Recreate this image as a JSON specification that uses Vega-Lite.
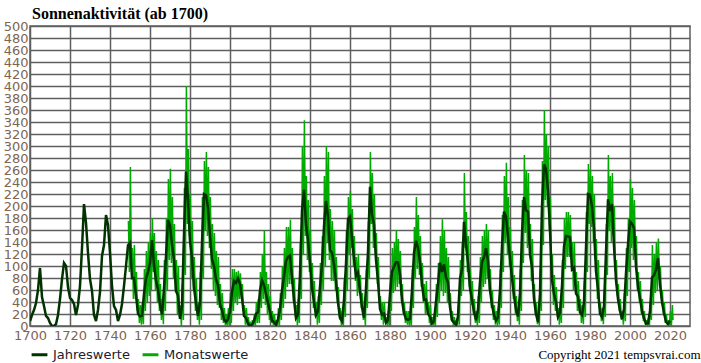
{
"$schema":"https://vega.github.io/schema/vega-lite/v6.json",
"width":660,"height":300,
"autosize":"none",
"padding":{"left":30,"top":26,"right":11,"bottom":37},
"background":"white",
"title":{"text":"Sonnenaktivität (ab 1700)","anchor":"start","frame":"group","font":"Liberation Serif","fontSize":16,"fontWeight":"bold","color":"#000000","offset":-2,"dx":2},
"config":{"view":{"stroke":"#5f5f5f","strokeWidth":1.5},"axis":{"labelFont":"DejaVu Sans","labelFontSize":13,"labelColor":"#7d6552","gridColor":"#5f5f5f","gridWidth":1.5,"gridOpacity":1,"domain":false,"ticks":false,"labelOverlap":false,"labelFlush":false},"axisY":{"labelOverlap":false},"axisX":{"labelOverlap":false}},
"datasets":{
"j":[{"t":1700,"v":8.3},{"t":1701,"v":18.3},{"t":1702,"v":26.7},{"t":1703,"v":38.3},{"t":1704,"v":60},{"t":1705,"v":96.7},{"t":1706,"v":48.3},{"t":1707,"v":33.3},{"t":1708,"v":16.7},{"t":1709,"v":13.3},{"t":1710,"v":5},{"t":1711,"v":0},{"t":1712,"v":0},{"t":1713,"v":3.3},{"t":1714,"v":18.3},{"t":1715,"v":45},{"t":1716,"v":78.3},{"t":1717,"v":105},{"t":1718,"v":100},{"t":1719,"v":65},{"t":1720,"v":46.7},{"t":1721,"v":43.3},{"t":1722,"v":36.7},{"t":1723,"v":18.3},{"t":1724,"v":35},{"t":1725,"v":66.7},{"t":1726,"v":130},{"t":1727,"v":203.3},{"t":1728,"v":171.7},{"t":1729,"v":121.7},{"t":1730,"v":78.3},{"t":1731,"v":58.3},{"t":1732,"v":18.3},{"t":1733,"v":8.3},{"t":1734,"v":26.7},{"t":1735,"v":56.7},{"t":1736,"v":116.7},{"t":1737,"v":135},{"t":1738,"v":185},{"t":1739,"v":168.3},{"t":1740,"v":121.7},{"t":1741,"v":66.7},{"t":1742,"v":33.3},{"t":1743,"v":26.7},{"t":1744,"v":8.3},{"t":1745,"v":18.3},{"t":1746,"v":36.7},{"t":1747,"v":66.7},{"t":1748,"v":100},{"t":1749,"v":134.8},{"t":1750,"v":139},{"t":1751,"v":79.5},{"t":1752,"v":79.7},{"t":1753,"v":51.2},{"t":1754,"v":20.3},{"t":1755,"v":16},{"t":1756,"v":17},{"t":1757,"v":54},{"t":1758,"v":79.3},{"t":1759,"v":90},{"t":1760,"v":104.8},{"t":1761,"v":143.2},{"t":1762,"v":102},{"t":1763,"v":75.2},{"t":1764,"v":60.7},{"t":1765,"v":34.8},{"t":1766,"v":19},{"t":1767,"v":63},{"t":1768,"v":116.3},{"t":1769,"v":176.8},{"t":1770,"v":168},{"t":1771,"v":136},{"t":1772,"v":110.8},{"t":1773,"v":58},{"t":1774,"v":51},{"t":1775,"v":11.7},{"t":1776,"v":33},{"t":1777,"v":154.2},{"t":1778,"v":257.3},{"t":1779,"v":209.8},{"t":1780,"v":141.3},{"t":1781,"v":113.5},{"t":1782,"v":64.2},{"t":1783,"v":38},{"t":1784,"v":17},{"t":1785,"v":40.2},{"t":1786,"v":138.2},{"t":1787,"v":220},{"t":1788,"v":218.2},{"t":1789,"v":196.8},{"t":1790,"v":149.8},{"t":1791,"v":111},{"t":1792,"v":100},{"t":1793,"v":78.2},{"t":1794,"v":68.3},{"t":1795,"v":35.5},{"t":1796,"v":26.7},{"t":1797,"v":10.7},{"t":1798,"v":6.8},{"t":1799,"v":11.3},{"t":1800,"v":24.2},{"t":1801,"v":56.7},{"t":1802,"v":75},{"t":1803,"v":71.8},{"t":1804,"v":79.2},{"t":1805,"v":70.3},{"t":1806,"v":46.8},{"t":1807,"v":16.8},{"t":1808,"v":13.5},{"t":1809,"v":4.2},{"t":1810,"v":0},{"t":1811,"v":2.3},{"t":1812,"v":8.3},{"t":1813,"v":20.3},{"t":1814,"v":23.2},{"t":1815,"v":59},{"t":1816,"v":76.3},{"t":1817,"v":68.3},{"t":1818,"v":52.9},{"t":1819,"v":38.5},{"t":1820,"v":24.2},{"t":1821,"v":9.2},{"t":1822,"v":6.3},{"t":1823,"v":2.2},{"t":1824,"v":11.4},{"t":1825,"v":28.2},{"t":1826,"v":59.9},{"t":1827,"v":83},{"t":1828,"v":108.5},{"t":1829,"v":115.2},{"t":1830,"v":117.4},{"t":1831,"v":80.8},{"t":1832,"v":44.3},{"t":1833,"v":13.4},{"t":1834,"v":19.5},{"t":1835,"v":85.8},{"t":1836,"v":192.7},{"t":1837,"v":227.3},{"t":1838,"v":168.7},{"t":1839,"v":143},{"t":1840,"v":105.5},{"t":1841,"v":63.3},{"t":1842,"v":40.3},{"t":1843,"v":18.1},{"t":1844,"v":25.1},{"t":1845,"v":65.8},{"t":1846,"v":102.7},{"t":1847,"v":166.3},{"t":1848,"v":208.3},{"t":1849,"v":182.5},{"t":1850,"v":126.3},{"t":1851,"v":122},{"t":1852,"v":102.7},{"t":1853,"v":74.1},{"t":1854,"v":39},{"t":1855,"v":12.7},{"t":1856,"v":8.2},{"t":1857,"v":43.4},{"t":1858,"v":104.4},{"t":1859,"v":178.3},{"t":1860,"v":182.2},{"t":1861,"v":146.6},{"t":1862,"v":112.1},{"t":1863,"v":83.5},{"t":1864,"v":89.2},{"t":1865,"v":57.8},{"t":1866,"v":30.7},{"t":1867,"v":13.9},{"t":1868,"v":62.8},{"t":1869,"v":123.6},{"t":1870,"v":232},{"t":1871,"v":185.3},{"t":1872,"v":169.2},{"t":1873,"v":110.1},{"t":1874,"v":74.5},{"t":1875,"v":28.3},{"t":1876,"v":18.9},{"t":1877,"v":20.7},{"t":1878,"v":5.7},{"t":1879,"v":10},{"t":1880,"v":53.7},{"t":1881,"v":90.5},{"t":1882,"v":99},{"t":1883,"v":106.1},{"t":1884,"v":105.8},{"t":1885,"v":86.3},{"t":1886,"v":42.4},{"t":1887,"v":21.8},{"t":1888,"v":11.2},{"t":1889,"v":10.4},{"t":1890,"v":11.8},{"t":1891,"v":59.5},{"t":1892,"v":121.7},{"t":1893,"v":142},{"t":1894,"v":130},{"t":1895,"v":106.6},{"t":1896,"v":69.4},{"t":1897,"v":43.8},{"t":1898,"v":44.4},{"t":1899,"v":20.2},{"t":1900,"v":15.7},{"t":1901,"v":4.6},{"t":1902,"v":8.5},{"t":1903,"v":40.8},{"t":1904,"v":70.1},{"t":1905,"v":105.5},{"t":1906,"v":90.1},{"t":1907,"v":102.8},{"t":1908,"v":80.9},{"t":1909,"v":73.2},{"t":1910,"v":30.9},{"t":1911,"v":9.5},{"t":1912,"v":6},{"t":1913,"v":2.4},{"t":1914,"v":16.1},{"t":1915,"v":79},{"t":1916,"v":95},{"t":1917,"v":173.6},{"t":1918,"v":134.6},{"t":1919,"v":105.7},{"t":1920,"v":62.7},{"t":1921,"v":43.5},{"t":1922,"v":23.7},{"t":1923,"v":9.7},{"t":1924,"v":27.9},{"t":1925,"v":74},{"t":1926,"v":106.5},{"t":1927,"v":114.7},{"t":1928,"v":129.7},{"t":1929,"v":108.2},{"t":1930,"v":59.4},{"t":1931,"v":35.1},{"t":1932,"v":18.6},{"t":1933,"v":9.2},{"t":1934,"v":14.6},{"t":1935,"v":60.2},{"t":1936,"v":132.8},{"t":1937,"v":190.6},{"t":1938,"v":182.6},{"t":1939,"v":148},{"t":1940,"v":113},{"t":1941,"v":79.2},{"t":1942,"v":50.8},{"t":1943,"v":27.1},{"t":1944,"v":16.1},{"t":1945,"v":55.3},{"t":1946,"v":154.3},{"t":1947,"v":214.7},{"t":1948,"v":193},{"t":1949,"v":190.7},{"t":1950,"v":118.9},{"t":1951,"v":98.3},{"t":1952,"v":45},{"t":1953,"v":20.1},{"t":1954,"v":6.6},{"t":1955,"v":54.2},{"t":1956,"v":200.7},{"t":1957,"v":269.3},{"t":1958,"v":261.7},{"t":1959,"v":225.1},{"t":1960,"v":159},{"t":1961,"v":76.4},{"t":1962,"v":53.4},{"t":1963,"v":39.9},{"t":1964,"v":15},{"t":1965,"v":22},{"t":1966,"v":66.8},{"t":1967,"v":132.9},{"t":1968,"v":150},{"t":1969,"v":149.4},{"t":1970,"v":148},{"t":1971,"v":94.4},{"t":1972,"v":97.6},{"t":1973,"v":54.1},{"t":1974,"v":49.2},{"t":1975,"v":22.5},{"t":1976,"v":18.4},{"t":1977,"v":39.3},{"t":1978,"v":131},{"t":1979,"v":220.1},{"t":1980,"v":218.9},{"t":1981,"v":198.9},{"t":1982,"v":162.4},{"t":1983,"v":91},{"t":1984,"v":60.5},{"t":1985,"v":20.6},{"t":1986,"v":14.8},{"t":1987,"v":33.9},{"t":1988,"v":123},{"t":1989,"v":211.1},{"t":1990,"v":191.8},{"t":1991,"v":203.3},{"t":1992,"v":133},{"t":1993,"v":76.1},{"t":1994,"v":44.9},{"t":1995,"v":25.1},{"t":1996,"v":11.6},{"t":1997,"v":28.9},{"t":1998,"v":88.3},{"t":1999,"v":136.3},{"t":2000,"v":173.9},{"t":2001,"v":170.4},{"t":2002,"v":163.6},{"t":2003,"v":99.3},{"t":2004,"v":65.3},{"t":2005,"v":45.8},{"t":2006,"v":24.7},{"t":2007,"v":12.6},{"t":2008,"v":4.2},{"t":2009,"v":4.8},{"t":2010,"v":24.9},{"t":2011,"v":80.8},{"t":2012,"v":84.5},{"t":2013,"v":94},{"t":2014,"v":113.3},{"t":2015,"v":69.8},{"t":2016,"v":39.8},{"t":2017,"v":21.7},{"t":2018,"v":7},{"t":2019,"v":3.6},{"t":2020,"v":8.8}],
"m":[{"t":1749.2,"v":175},{"t":1749.7,"v":90},{"t":1750.2,"v":265},{"t":1750.7,"v":95},{"t":1751.2,"v":130},{"t":1751.7,"v":45},{"t":1752.2,"v":135},{"t":1752.7,"v":45},{"t":1753.2,"v":90},{"t":1753.7,"v":25},{"t":1754.2,"v":45},{"t":1754.7,"v":5},{"t":1755.2,"v":35},{"t":1755.7,"v":2},{"t":1756.2,"v":40},{"t":1756.7,"v":3},{"t":1757.2,"v":95},{"t":1757.7,"v":25},{"t":1758.2,"v":125},{"t":1758.7,"v":40},{"t":1759.2,"v":140},{"t":1759.7,"v":50},{"t":1760.2,"v":155},{"t":1760.7,"v":60},{"t":1761.2,"v":180},{"t":1761.7,"v":90},{"t":1762.2,"v":155},{"t":1762.7,"v":60},{"t":1763.2,"v":125},{"t":1763.7,"v":40},{"t":1764.2,"v":110},{"t":1764.7,"v":25},{"t":1765.2,"v":70},{"t":1765.7,"v":10},{"t":1766.2,"v":45},{"t":1766.7,"v":3},{"t":1767.2,"v":110},{"t":1767.7,"v":25},{"t":1768.2,"v":180},{"t":1768.7,"v":60},{"t":1769.2,"v":245},{"t":1769.7,"v":110},{"t":1770.2,"v":262},{"t":1770.7,"v":105},{"t":1771.2,"v":215},{"t":1771.7,"v":80},{"t":1772.2,"v":170},{"t":1772.7,"v":60},{"t":1773.2,"v":110},{"t":1773.7,"v":20},{"t":1774.2,"v":100},{"t":1774.7,"v":15},{"t":1775.2,"v":35},{"t":1775.7,"v":0},{"t":1776.2,"v":70},{"t":1776.7,"v":10},{"t":1777.2,"v":230},{"t":1777.7,"v":85},{"t":1778.2,"v":400},{"t":1778.7,"v":170},{"t":1779.2,"v":295},{"t":1779.7,"v":150},{"t":1780.2,"v":220},{"t":1780.7,"v":80},{"t":1781.2,"v":175},{"t":1781.7,"v":60},{"t":1782.2,"v":115},{"t":1782.7,"v":25},{"t":1783.2,"v":80},{"t":1783.7,"v":10},{"t":1784.2,"v":40},{"t":1784.7,"v":2},{"t":1785.2,"v":90},{"t":1785.7,"v":10},{"t":1786.2,"v":215},{"t":1786.7,"v":80},{"t":1787.2,"v":275},{"t":1787.7,"v":160},{"t":1788.2,"v":290},{"t":1788.7,"v":150},{"t":1789.2,"v":265},{"t":1789.7,"v":130},{"t":1790.2,"v":215},{"t":1790.7,"v":95},{"t":1791.2,"v":170},{"t":1791.7,"v":60},{"t":1792.2,"v":155},{"t":1792.7,"v":50},{"t":1793.2,"v":125},{"t":1793.7,"v":35},{"t":1794.2,"v":115},{"t":1794.7,"v":30},{"t":1795.2,"v":70},{"t":1795.7,"v":10},{"t":1796.2,"v":55},{"t":1796.7,"v":5},{"t":1797.2,"v":30},{"t":1797.7,"v":0},{"t":1798.2,"v":20},{"t":1798.7,"v":0},{"t":1799.2,"v":30},{"t":1799.7,"v":0},{"t":1800.2,"v":55},{"t":1800.7,"v":5},{"t":1801.2,"v":95},{"t":1801.7,"v":25},{"t":1802.2,"v":95},{"t":1802.7,"v":40},{"t":1803.2,"v":90},{"t":1803.7,"v":35},{"t":1804.2,"v":92},{"t":1804.7,"v":45},{"t":1805.2,"v":88},{"t":1805.7,"v":45},{"t":1806.2,"v":70},{"t":1806.7,"v":25},{"t":1807.2,"v":35},{"t":1807.7,"v":2},{"t":1808.2,"v":30},{"t":1808.7,"v":0},{"t":1809.2,"v":15},{"t":1809.7,"v":0},{"t":1810.2,"v":5},{"t":1810.7,"v":0},{"t":1811.2,"v":10},{"t":1811.7,"v":0},{"t":1812.2,"v":20},{"t":1812.7,"v":0},{"t":1813.2,"v":40},{"t":1813.7,"v":5},{"t":1814.2,"v":45},{"t":1814.7,"v":5},{"t":1815.2,"v":90},{"t":1815.7,"v":30},{"t":1816.2,"v":120},{"t":1816.7,"v":45},{"t":1817.2,"v":159},{"t":1817.7,"v":35},{"t":1818.2,"v":90},{"t":1818.7,"v":20},{"t":1819.2,"v":70},{"t":1819.7,"v":10},{"t":1820.2,"v":50},{"t":1820.7,"v":5},{"t":1821.2,"v":25},{"t":1821.7,"v":0},{"t":1822.2,"v":20},{"t":1822.7,"v":0},{"t":1823.2,"v":10},{"t":1823.7,"v":0},{"t":1824.2,"v":30},{"t":1824.7,"v":0},{"t":1825.2,"v":55},{"t":1825.7,"v":10},{"t":1826.2,"v":100},{"t":1826.7,"v":30},{"t":1827.2,"v":130},{"t":1827.7,"v":45},{"t":1828.2,"v":165},{"t":1828.7,"v":65},{"t":1829.2,"v":165},{"t":1829.7,"v":70},{"t":1830.2,"v":177},{"t":1830.7,"v":70},{"t":1831.2,"v":130},{"t":1831.7,"v":40},{"t":1832.2,"v":80},{"t":1832.7,"v":15},{"t":1833.2,"v":35},{"t":1833.7,"v":0},{"t":1834.2,"v":45},{"t":1834.7,"v":5},{"t":1835.2,"v":140},{"t":1835.7,"v":45},{"t":1836.2,"v":300},{"t":1836.7,"v":120},{"t":1837.2,"v":343},{"t":1837.7,"v":150},{"t":1838.2,"v":250},{"t":1838.7,"v":110},{"t":1839.2,"v":210},{"t":1839.7,"v":90},{"t":1840.2,"v":160},{"t":1840.7,"v":60},{"t":1841.2,"v":105},{"t":1841.7,"v":30},{"t":1842.2,"v":75},{"t":1842.7,"v":15},{"t":1843.2,"v":40},{"t":1843.7,"v":2},{"t":1844.2,"v":50},{"t":1844.7,"v":5},{"t":1845.2,"v":105},{"t":1845.7,"v":35},{"t":1846.2,"v":150},{"t":1846.7,"v":60},{"t":1847.2,"v":250},{"t":1847.7,"v":100},{"t":1848.2,"v":300},{"t":1848.7,"v":140},{"t":1849.2,"v":290},{"t":1849.7,"v":110},{"t":1850.2,"v":195},{"t":1850.7,"v":75},{"t":1851.2,"v":175},{"t":1851.7,"v":75},{"t":1852.2,"v":160},{"t":1852.7,"v":60},{"t":1853.2,"v":115},{"t":1853.7,"v":40},{"t":1854.2,"v":65},{"t":1854.7,"v":15},{"t":1855.2,"v":30},{"t":1855.7,"v":0},{"t":1856.2,"v":25},{"t":1856.7,"v":0},{"t":1857.2,"v":80},{"t":1857.7,"v":15},{"t":1858.2,"v":160},{"t":1858.7,"v":60},{"t":1859.2,"v":215},{"t":1859.7,"v":120},{"t":1860.2,"v":225},{"t":1860.7,"v":130},{"t":1861.2,"v":195},{"t":1861.7,"v":100},{"t":1862.2,"v":150},{"t":1862.7,"v":75},{"t":1863.2,"v":115},{"t":1863.7,"v":50},{"t":1864.2,"v":120},{"t":1864.7,"v":55},{"t":1865.2,"v":85},{"t":1865.7,"v":30},{"t":1866.2,"v":55},{"t":1866.7,"v":10},{"t":1867.2,"v":30},{"t":1867.7,"v":0},{"t":1868.2,"v":95},{"t":1868.7,"v":30},{"t":1869.2,"v":175},{"t":1869.7,"v":80},{"t":1870.2,"v":290},{"t":1870.7,"v":170},{"t":1871.2,"v":255},{"t":1871.7,"v":130},{"t":1872.2,"v":220},{"t":1872.7,"v":120},{"t":1873.2,"v":155},{"t":1873.7,"v":70},{"t":1874.2,"v":115},{"t":1874.7,"v":40},{"t":1875.2,"v":50},{"t":1875.7,"v":10},{"t":1876.2,"v":40},{"t":1876.7,"v":2},{"t":1877.2,"v":40},{"t":1877.7,"v":5},{"t":1878.2,"v":15},{"t":1878.7,"v":0},{"t":1879.2,"v":25},{"t":1879.7,"v":0},{"t":1880.2,"v":85},{"t":1880.7,"v":25},{"t":1881.2,"v":130},{"t":1881.7,"v":55},{"t":1882.2,"v":140},{"t":1882.7,"v":60},{"t":1883.2,"v":160},{"t":1883.7,"v":65},{"t":1884.2,"v":145},{"t":1884.7,"v":70},{"t":1885.2,"v":125},{"t":1885.7,"v":50},{"t":1886.2,"v":70},{"t":1886.7,"v":20},{"t":1887.2,"v":40},{"t":1887.7,"v":5},{"t":1888.2,"v":25},{"t":1888.7,"v":2},{"t":1889.2,"v":25},{"t":1889.7,"v":0},{"t":1890.2,"v":25},{"t":1890.7,"v":0},{"t":1891.2,"v":95},{"t":1891.7,"v":30},{"t":1892.2,"v":165},{"t":1892.7,"v":80},{"t":1893.2,"v":215},{"t":1893.7,"v":95},{"t":1894.2,"v":185},{"t":1894.7,"v":85},{"t":1895.2,"v":150},{"t":1895.7,"v":65},{"t":1896.2,"v":105},{"t":1896.7,"v":40},{"t":1897.2,"v":70},{"t":1897.7,"v":20},{"t":1898.2,"v":75},{"t":1898.7,"v":20},{"t":1899.2,"v":40},{"t":1899.7,"v":5},{"t":1900.2,"v":35},{"t":1900.7,"v":2},{"t":1901.2,"v":15},{"t":1901.7,"v":0},{"t":1902.2,"v":20},{"t":1902.7,"v":0},{"t":1903.2,"v":70},{"t":1903.7,"v":15},{"t":1904.2,"v":105},{"t":1904.7,"v":40},{"t":1905.2,"v":150},{"t":1905.7,"v":60},{"t":1906.2,"v":178},{"t":1906.7,"v":50},{"t":1907.2,"v":160},{"t":1907.7,"v":55},{"t":1908.2,"v":130},{"t":1908.7,"v":40},{"t":1909.2,"v":115},{"t":1909.7,"v":35},{"t":1910.2,"v":55},{"t":1910.7,"v":10},{"t":1911.2,"v":25},{"t":1911.7,"v":0},{"t":1912.2,"v":15},{"t":1912.7,"v":0},{"t":1913.2,"v":10},{"t":1913.7,"v":0},{"t":1914.2,"v":35},{"t":1914.7,"v":2},{"t":1915.2,"v":110},{"t":1915.7,"v":50},{"t":1916.2,"v":140},{"t":1916.7,"v":60},{"t":1917.2,"v":255},{"t":1917.7,"v":130},{"t":1918.2,"v":190},{"t":1918.7,"v":90},{"t":1919.2,"v":150},{"t":1919.7,"v":65},{"t":1920.2,"v":95},{"t":1920.7,"v":35},{"t":1921.2,"v":75},{"t":1921.7,"v":20},{"t":1922.2,"v":45},{"t":1922.7,"v":5},{"t":1923.2,"v":25},{"t":1923.7,"v":0},{"t":1924.2,"v":50},{"t":1924.7,"v":5},{"t":1925.2,"v":115},{"t":1925.7,"v":40},{"t":1926.2,"v":150},{"t":1926.7,"v":65},{"t":1927.2,"v":160},{"t":1927.7,"v":70},{"t":1928.2,"v":170},{"t":1928.7,"v":80},{"t":1929.2,"v":160},{"t":1929.7,"v":60},{"t":1930.2,"v":95},{"t":1930.7,"v":30},{"t":1931.2,"v":60},{"t":1931.7,"v":10},{"t":1932.2,"v":35},{"t":1932.7,"v":2},{"t":1933.2,"v":25},{"t":1933.7,"v":0},{"t":1934.2,"v":30},{"t":1934.7,"v":2},{"t":1935.2,"v":95},{"t":1935.7,"v":30},{"t":1936.2,"v":185},{"t":1936.7,"v":90},{"t":1937.2,"v":250},{"t":1937.7,"v":140},{"t":1938.2,"v":272},{"t":1938.7,"v":120},{"t":1939.2,"v":215},{"t":1939.7,"v":100},{"t":1940.2,"v":165},{"t":1940.7,"v":75},{"t":1941.2,"v":125},{"t":1941.7,"v":45},{"t":1942.2,"v":85},{"t":1942.7,"v":20},{"t":1943.2,"v":50},{"t":1943.7,"v":8},{"t":1944.2,"v":30},{"t":1944.7,"v":2},{"t":1945.2,"v":95},{"t":1945.7,"v":25},{"t":1946.2,"v":210},{"t":1946.7,"v":105},{"t":1947.2,"v":285},{"t":1947.7,"v":155},{"t":1948.2,"v":260},{"t":1948.7,"v":130},{"t":1949.2,"v":255},{"t":1949.7,"v":135},{"t":1950.2,"v":170},{"t":1950.7,"v":75},{"t":1951.2,"v":145},{"t":1951.7,"v":60},{"t":1952.2,"v":70},{"t":1952.7,"v":20},{"t":1953.2,"v":40},{"t":1953.7,"v":3},{"t":1954.2,"v":20},{"t":1954.7,"v":0},{"t":1955.2,"v":95},{"t":1955.7,"v":25},{"t":1956.2,"v":275},{"t":1956.7,"v":135},{"t":1957.2,"v":360},{"t":1957.7,"v":210},{"t":1958.2,"v":320},{"t":1958.7,"v":200},{"t":1959.2,"v":300},{"t":1959.7,"v":160},{"t":1960.2,"v":215},{"t":1960.7,"v":105},{"t":1961.2,"v":120},{"t":1961.7,"v":35},{"t":1962.2,"v":85},{"t":1962.7,"v":25},{"t":1963.2,"v":65},{"t":1963.7,"v":15},{"t":1964.2,"v":30},{"t":1964.7,"v":2},{"t":1965.2,"v":40},{"t":1965.7,"v":5},{"t":1966.2,"v":110},{"t":1966.7,"v":30},{"t":1967.2,"v":180},{"t":1967.7,"v":95},{"t":1968.2,"v":190},{"t":1968.7,"v":115},{"t":1969.2,"v":190},{"t":1969.7,"v":115},{"t":1970.2,"v":185},{"t":1970.7,"v":115},{"t":1971.2,"v":140},{"t":1971.7,"v":60},{"t":1972.2,"v":140},{"t":1972.7,"v":65},{"t":1973.2,"v":90},{"t":1973.7,"v":25},{"t":1974.2,"v":75},{"t":1974.7,"v":25},{"t":1975.2,"v":45},{"t":1975.7,"v":5},{"t":1976.2,"v":35},{"t":1976.7,"v":3},{"t":1977.2,"v":75},{"t":1977.7,"v":15},{"t":1978.2,"v":190},{"t":1978.7,"v":90},{"t":1979.2,"v":270},{"t":1979.7,"v":170},{"t":1980.2,"v":260},{"t":1980.7,"v":165},{"t":1981.2,"v":250},{"t":1981.7,"v":140},{"t":1982.2,"v":220},{"t":1982.7,"v":110},{"t":1983.2,"v":145},{"t":1983.7,"v":45},{"t":1984.2,"v":110},{"t":1984.7,"v":30},{"t":1985.2,"v":40},{"t":1985.7,"v":8},{"t":1986.2,"v":30},{"t":1986.7,"v":3},{"t":1987.2,"v":60},{"t":1987.7,"v":15},{"t":1988.2,"v":170},{"t":1988.7,"v":85},{"t":1989.2,"v":285},{"t":1989.7,"v":160},{"t":1990.2,"v":250},{"t":1990.7,"v":140},{"t":1991.2,"v":255},{"t":1991.7,"v":150},{"t":1992.2,"v":200},{"t":1992.7,"v":90},{"t":1993.2,"v":110},{"t":1993.7,"v":50},{"t":1994.2,"v":70},{"t":1994.7,"v":25},{"t":1995.2,"v":45},{"t":1995.7,"v":10},{"t":1996.2,"v":25},{"t":1996.7,"v":2},{"t":1997.2,"v":55},{"t":1997.7,"v":8},{"t":1998.2,"v":130},{"t":1998.7,"v":50},{"t":1999.2,"v":180},{"t":1999.7,"v":90},{"t":2000.2,"v":245},{"t":2000.7,"v":130},{"t":2001.2,"v":230},{"t":2001.7,"v":110},{"t":2002.2,"v":210},{"t":2002.7,"v":120},{"t":2003.2,"v":150},{"t":2003.7,"v":60},{"t":2004.2,"v":90},{"t":2004.7,"v":40},{"t":2005.2,"v":75},{"t":2005.7,"v":20},{"t":2006.2,"v":45},{"t":2006.7,"v":8},{"t":2007.2,"v":25},{"t":2007.7,"v":2},{"t":2008.2,"v":10},{"t":2008.7,"v":0},{"t":2009.2,"v":12},{"t":2009.7,"v":0},{"t":2010.2,"v":40},{"t":2010.7,"v":10},{"t":2011.2,"v":135},{"t":2011.7,"v":35},{"t":2012.2,"v":120},{"t":2012.7,"v":55},{"t":2013.2,"v":140},{"t":2013.7,"v":60},{"t":2014.2,"v":146},{"t":2014.7,"v":80},{"t":2015.2,"v":100},{"t":2015.7,"v":45},{"t":2016.2,"v":60},{"t":2016.7,"v":20},{"t":2017.2,"v":40},{"t":2017.7,"v":5},{"t":2018.2,"v":20},{"t":2018.7,"v":0},{"t":2019.2,"v":10},{"t":2019.7,"v":0},{"t":2020.2,"v":25},{"t":2020.7,"v":0},{"t":2021.2,"v":35},{"t":2021.5,"v":10}]
},
"layer":[
{"data":{"name":"m"},"mark":{"type":"line","strokeWidth":1.5,"clip":true},
 "encoding":{"x":{"field":"t","type":"quantitative","scale":{"domain":[1700,2030],"nice":false,"zero":false},
   "axis":{"values":[1700,1720,1740,1760,1780,1800,1820,1840,1860,1880,1900,1920,1940,1960,1980,2000,2020],"format":"d","labelPadding":3,"labelFlush":false,"labelOverlap":false,
     "title":"Copyright 2021 tempsvrai.com","titleFont":"Liberation Serif","titleFontSize":13,"titleFontWeight":"normal","titleColor":"#000000","titleAnchor":"end","titleAlign":"right","titleBaseline":"alphabetic","titleX":670,"titleY":32}},
  "y":{"field":"v","type":"quantitative","scale":{"domain":[0,500],"nice":false},
   "axis":{"values":[0,20,40,60,80,100,120,140,160,180,200,220,240,260,280,300,320,340,360,380,400,420,440,460,480,500],"labelPadding":2,"labelFlush":false,"labelOverlap":false,"labelBound":false,"title":null}},
  "color":{"datum":"Monatswerte","type":"nominal","scale":{"domain":["Jahreswerte","Monatswerte"],"range":["#003300","#00aa00"]},
   "legend":{"title":null,"orient":"none","legendX":0,"legendY":319,"direction":"horizontal","symbolType":"stroke","symbolStrokeWidth":3,"symbolSize":250,"labelFont":"DejaVu Sans","labelFontSize":13,"labelColor":"#202030","labelOffset":4,"columnPadding":6,"padding":0}}}},
{"data":{"name":"j"},"mark":{"type":"line","strokeWidth":2.5,"clip":true},
 "encoding":{"x":{"field":"t","type":"quantitative"},"y":{"field":"v","type":"quantitative","axis":{"values":[0,20,40,60,80,100,120,140,160,180,200,220,240,260,280,300,320,340,360,380,400,420,440,460,480,500],"labelOverlap":false,"labelPadding":2,"title":null}},"color":{"datum":"Jahreswerte","type":"nominal"}}}
]
}
